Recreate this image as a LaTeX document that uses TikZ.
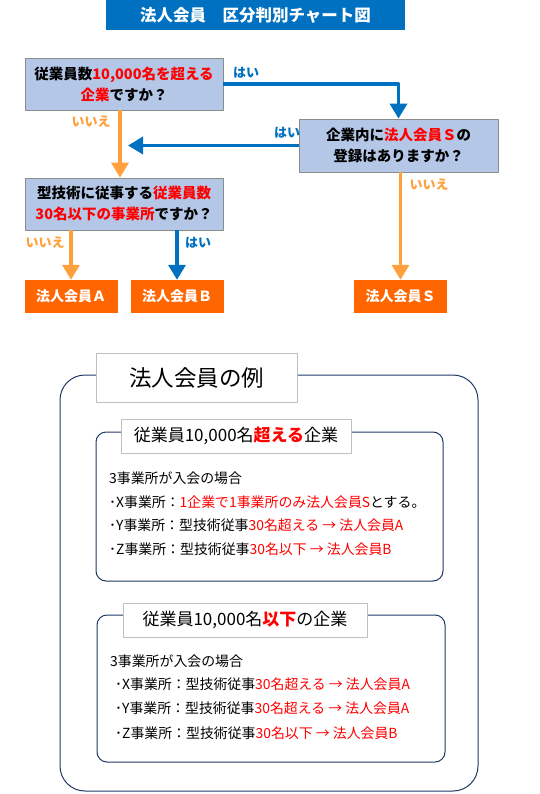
\documentclass[tikz,border=0pt]{standalone}
\usepackage{fontspec}
\setmainfont{Noto Sans CJK JP}
\usetikzlibrary{arrows.meta}
\definecolor{hblue}{RGB}{0,112,192}
\definecolor{qfill}{RGB}{180,199,231}
\definecolor{qline}{RGB}{140,140,140}
\definecolor{mbox}{RGB}{255,102,0}
\definecolor{noline}{RGB}{255,160,60}
\definecolor{hred}{RGB}{255,0,0}
\definecolor{navy}{RGB}{32,56,100}
\definecolor{tagline}{RGB}{191,191,191}
\begin{document}
\begin{tikzpicture}[x=1pt, y=-1pt, line join=round, font=\fontsize{13.9}{16}\selectfont,
	question/.style={draw=qline, fill=qfill, line width=0.8pt, minimum width=198pt, minimum height=52pt, align=center, inner sep=0pt, font=\bfseries\fontsize{14.5}{21}\selectfont},
	member/.style={fill=mbox, text=white, minimum width=93pt, minimum height=33pt, inner sep=0pt, font=\bfseries\fontsize{14}{16}\selectfont},
	yes/.style={draw=hblue, line width=3.5pt, -{Triangle[width=17pt,length=15pt]}},
	no/.style={yes, draw=noline},
	yeslabel/.style={text=hblue, font=\bfseries\fontsize{13}{16}\selectfont},
	nolabel/.style={text=noline, font=\bfseries\fontsize{13}{16}\selectfont},
	tag/.style={draw=tagline, fill=white, line width=0.8pt, inner sep=0pt, minimum height=34pt, font=\fontsize{17}{20}\selectfont},
	panel/.style={draw=navy, line width=1pt, rounded corners=10pt},
	line/.style={anchor=west, inner sep=0pt}]
	\useasboundingbox (0,0) rectangle (540,794);
	\node[fill=hblue, text=white, minimum width=299pt, minimum height=30pt, inner sep=0pt, font=\bfseries\fontsize{16.5}{18}\selectfont] (title) at (255.5,15) {法人会員　区分判別チャート図};
	\node[question] (q1) at (124,84) {従業員数\textcolor{hred}{10,000名を超える}\\\textcolor{hred}{企業}ですか？};
	\node[question, minimum width=199pt, minimum height=53pt] (q2) at (398.5,145.5) {企業内に\textcolor{hred}{法人会員Ｓ}の\\登録はありますか？};
	\node[question] (q3) at (124,204) {型技術に従事する\textcolor{hred}{従業員数}\\\textcolor{hred}{30名以下の事業所}ですか？};
	\node[member] (a) at (71,296.5) {法人会員Ａ};
	\node[member] (b) at (177,296.5) {法人会員Ｂ};
	\node[member] (s) at (400.5,296.5) {法人会員Ｓ};
	\coordinate (join) at (128,145.5);
	\draw[yes] (q1.east) -| (q2.north);
	\draw[yes] (q2.west) -- (join);
	\draw[no] ([xshift=-4pt]q1.south) -- ([xshift=-4pt]q3.north);
	\draw[no] (a.north|-q3.south) -- (a.north);
	\draw[yes] (b.north|-q3.south) -- (b.north);
	\draw[no] (s.north|-q2.south) -- (s.north);
	\node[yeslabel] (y1) at (246,73) {はい};
	\node[yeslabel] (y2) at (287,133) {はい};
	\node[yeslabel] (y3) at (198,243) {はい};
	\node[nolabel] (n1) at (91,122) {いいえ};
	\node[nolabel] (n2) at (45,243) {いいえ};
	\node[nolabel] (n3) at (429,185) {いいえ};
	\draw[panel, rounded corners=25pt] (60,375) rectangle (478,791);
	\node[tag, minimum width=201pt, minimum height=49pt, font=\fontsize{22.5}{24}\selectfont] (example) at (196.5,377.5) {法人会員の例};
	\draw[panel] (96,432) rectangle (443,581);
	\node[tag, minimum width=230pt] (over) at (236,436) {従業員10,000名\textcolor{hred}{\bfseries 超える}企業};
	\node[line] (o0) at (109,478) {3事業所が入会の場合};
	\foreach \y/\t in {502/{･X事業所：\textcolor{hred}{1企業で1事業所のみ法人会員S}とする。},
		525/{･Y事業所：型技術従事\textcolor{hred}{30名超える → 法人会員A}},
		549/{･Z事業所：型技術従事\textcolor{hred}{30名以下 → 法人会員B}}}
		\node[line] (o\y) at (109,\y) {\t};
	\draw[panel] (97,615) rectangle (445,762);
	\node[tag, minimum width=244pt] (under) at (245,620) {従業員10,000名\textcolor{hred}{\bfseries 以下}の企業};
	\node[line] (u0) at (110,661) {3事業所が入会の場合};
	\foreach \y/\t in {684/{･X事業所：型技術従事\textcolor{hred}{30名超える → 法人会員A}},
		708/{･Y事業所：型技術従事\textcolor{hred}{30名超える → 法人会員A}},
		733/{･Z事業所：型技術従事\textcolor{hred}{30名以下 → 法人会員B}}}
		\node[line] (u\y) at (115,\y) {\t};
\end{tikzpicture}
\end{document}
